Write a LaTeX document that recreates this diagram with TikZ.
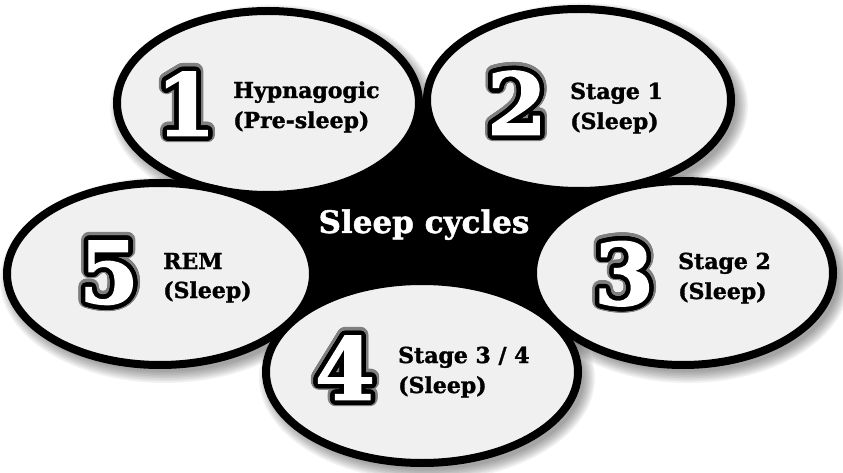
\documentclass[tikz,border=0pt]{standalone}
\usepackage{fontspec}
\setmainfont{DejaVu Serif}[BoldFeatures={FakeBold=1.5}]
\usepackage{contour}
\contournumber{32}
\usetikzlibrary{shapes.geometric}
\definecolor{bubblefill}{HTML}{F0F0F0}
\definecolor{digitgray}{HTML}{7F7F7F}
\begin{document}
\begin{tikzpicture}[x=1pt,y=-1pt,
  bubble/.style={ellipse, draw=black, line width=8pt, fill=bubblefill, inner sep=0pt},
  lab/.style={font=\bfseries\fontsize{22}{26}\selectfont, anchor=base west, inner sep=0pt},
  digit/.style={font=\bfseries\fontsize{86}{86}\selectfont, inner sep=0pt, anchor=center},
  shade/.style={black, opacity=0.05}]
\useasboundingbox (0,0) rectangle (843,473);
\fill[white] (0,0) rectangle (843,473);
% centres
\coordinate (c1) at (268,103);
\coordinate (c2) at (579,100);
\coordinate (c3) at (683,273);
\coordinate (c4) at (422,372);
\coordinate (c5) at (160,274);
% soft shadows
\foreach \cx/\cy/\rx/\ry in {268/103/151/92, 579/100/152/91, 683/273/150/92, 422/372/156/91, 160/274/153/91}{
  \foreach \k in {0,...,7}{
    \fill[shade] (\cx+5,\cy+6) ellipse ({\rx+12-1.6*\k} and {\ry+12-1.6*\k});
  }
}
% black centre
\fill[black] (c1) -- (c2) -- (c3) -- (c4) -- (c5) -- cycle;
% bubbles
\node[bubble, minimum width=302pt, minimum height=184pt] (e1) at (c1) {};
\node[bubble, minimum width=304pt, minimum height=182pt] (e2) at (c2) {};
\node[bubble, minimum width=300pt, minimum height=184pt] (e3) at (c3) {};
\node[bubble, minimum width=312pt, minimum height=182pt] (e4) at (c4) {};
\node[bubble, minimum width=306pt, minimum height=182pt] (e5) at (c5) {};
% title
\node[font=\bfseries\fontsize{31}{36}\selectfont, text=white, anchor=base, inner sep=0pt] (title) at (424,233) {Sleep cycles};
% digits: outer grey ring, then black ring with white glyph
\node[digit] (d1s) at (186,106) {\contourlength{7pt}\contour{digitgray}{1}};
\node[digit] (d1) at (186,106) {\contourlength{4.5pt}\contour{black}{\textcolor{white}{1}}};
\node[digit] (d2s) at (517,105) {\contourlength{7pt}\contour{digitgray}{2}};
\node[digit] (d2) at (517,105) {\contourlength{4.5pt}\contour{black}{\textcolor{white}{2}}};
\node[digit] (d3s) at (624,276) {\contourlength{7pt}\contour{digitgray}{3}};
\node[digit] (d3) at (624,276) {\contourlength{4.5pt}\contour{black}{\textcolor{white}{3}}};
\node[digit] (d4s) at (345,370) {\contourlength{7pt}\contour{digitgray}{4}};
\node[digit] (d4) at (345,370) {\contourlength{4.5pt}\contour{black}{\textcolor{white}{4}}};
\node[digit] (d5s) at (109,275) {\contourlength{7pt}\contour{digitgray}{5}};
\node[digit] (d5) at (109,275) {\contourlength{4.5pt}\contour{black}{\textcolor{white}{5}}};
% labels
\node[lab] (t1a) at (233,98) {Hypnagogic};
\node[lab] (t1b) at (233,128) {(Pre-sleep)};
\node[lab] (t2a) at (570,99) {Stage 1};
\node[lab] (t2b) at (570,129) {(Sleep)};
\node[lab] (t3a) at (678,269) {Stage 2};
\node[lab] (t3b) at (678,299) {(Sleep)};
\node[lab] (t4a) at (398,363) {Stage 3 / 4};
\node[lab] (t4b) at (398,393) {(Sleep)};
\node[lab] (t5a) at (163,269) {REM};
\node[lab] (t5b) at (163,298) {(Sleep)};
\end{tikzpicture}
\end{document}
